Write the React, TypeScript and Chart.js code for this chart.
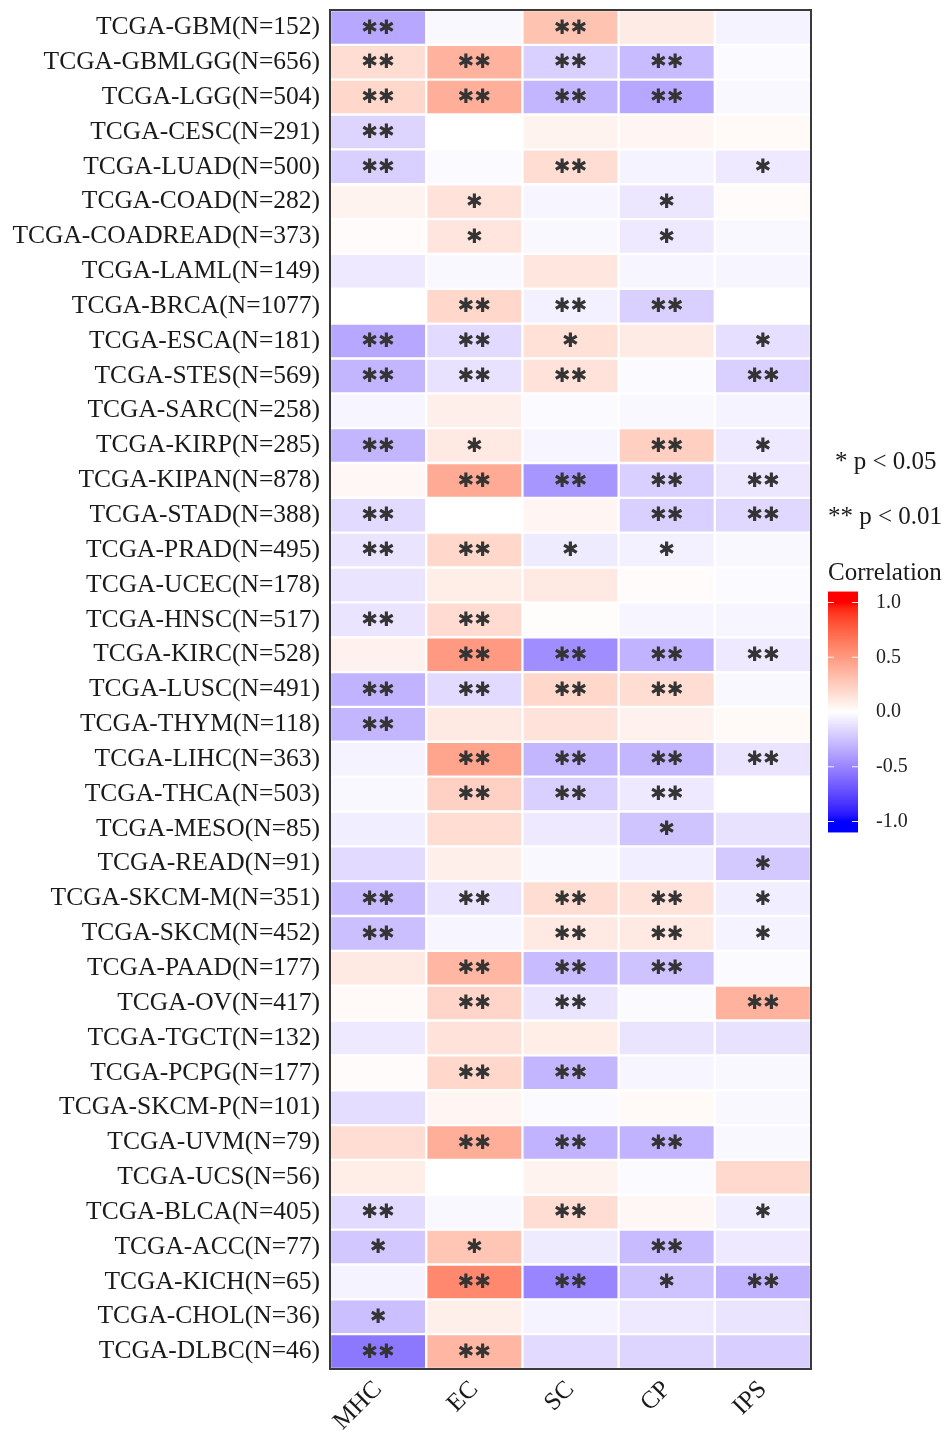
import React, { useEffect, useRef } from "react";
import { Chart, registerables } from "chart.js";

Chart.register(...registerables);

// ---------- data ----------
const cancerTypes = [
  "TCGA-GBM(N=152)", "TCGA-GBMLGG(N=656)", "TCGA-LGG(N=504)", "TCGA-CESC(N=291)",
  "TCGA-LUAD(N=500)", "TCGA-COAD(N=282)", "TCGA-COADREAD(N=373)", "TCGA-LAML(N=149)",
  "TCGA-BRCA(N=1077)", "TCGA-ESCA(N=181)", "TCGA-STES(N=569)", "TCGA-SARC(N=258)",
  "TCGA-KIRP(N=285)", "TCGA-KIPAN(N=878)", "TCGA-STAD(N=388)", "TCGA-PRAD(N=495)",
  "TCGA-UCEC(N=178)", "TCGA-HNSC(N=517)", "TCGA-KIRC(N=528)", "TCGA-LUSC(N=491)",
  "TCGA-THYM(N=118)", "TCGA-LIHC(N=363)", "TCGA-THCA(N=503)", "TCGA-MESO(N=85)",
  "TCGA-READ(N=91)", "TCGA-SKCM-M(N=351)", "TCGA-SKCM(N=452)", "TCGA-PAAD(N=177)",
  "TCGA-OV(N=417)", "TCGA-TGCT(N=132)", "TCGA-PCPG(N=177)", "TCGA-SKCM-P(N=101)",
  "TCGA-UVM(N=79)", "TCGA-UCS(N=56)", "TCGA-BLCA(N=405)", "TCGA-ACC(N=77)",
  "TCGA-KICH(N=65)", "TCGA-CHOL(N=36)", "TCGA-DLBC(N=46)",
];

const signatures = ["MHC", "EC", "SC", "CP", "IPS"];

const mhcCorr = [
  -0.36, 0.17, 0.2, -0.17, -0.19, 0.06, 0.02, -0.09, 0.0, -0.36, -0.3, -0.04, -0.3,
  0.04, -0.15, -0.11, -0.11, -0.11, 0.07, -0.31, -0.3, -0.05, -0.03, -0.07, -0.15,
  -0.28, -0.26, 0.11, 0.03, -0.09, 0.02, -0.14, 0.17, 0.09, -0.15, -0.23, -0.05, -0.26, -0.56,
];
const ecCorr = [
  -0.03, 0.38, 0.4, 0.0, -0.02, 0.14, 0.13, -0.03, 0.2, -0.15, -0.12, 0.08, 0.11,
  0.42, 0.0, 0.2, 0.09, 0.18, 0.5, -0.15, 0.11, 0.45, 0.23, 0.17, 0.08,
  -0.11, -0.04, 0.36, 0.21, 0.14, 0.2, 0.05, 0.4, 0.0, -0.03, 0.29, 0.58, 0.08, 0.36,
];
const scCorr = [
  0.3, -0.19, -0.3, 0.06, 0.17, -0.04, -0.03, 0.12, -0.06, 0.15, 0.14, -0.02, -0.04,
  -0.43, 0.05, -0.08, 0.11, 0.01, -0.47, 0.2, 0.14, -0.3, -0.19, -0.09, -0.03,
  0.17, 0.11, -0.28, -0.11, 0.09, -0.3, -0.02, -0.31, 0.06, 0.17, -0.08, -0.5, -0.05, -0.15,
];
const cpCorr = [
  0.1, -0.28, -0.36, 0.05, -0.05, -0.1, -0.09, -0.04, -0.19, 0.1, -0.02, -0.03, 0.24,
  -0.19, -0.19, -0.06, 0.02, -0.04, -0.31, 0.17, 0.07, -0.3, -0.09, -0.24, -0.07,
  0.14, 0.11, -0.25, -0.02, -0.11, -0.04, 0.03, -0.31, -0.02, 0.04, -0.28, -0.25, -0.09, -0.17,
];
const ipsCorr = [
  -0.05, -0.02, -0.03, 0.03, -0.09, 0.02, -0.03, -0.04, 0.0, -0.13, -0.19, -0.05, -0.09,
  -0.1, -0.16, -0.03, -0.02, -0.04, -0.09, -0.03, 0.03, -0.11, 0.0, -0.12, -0.22,
  -0.07, -0.05, -0.02, 0.38, -0.12, -0.03, -0.03, -0.03, 0.19, -0.07, -0.09, -0.31, -0.11, -0.2,
];

const mhcSig = [
  "**", "**", "**", "**", "**", "", "", "", "", "**", "**", "", "**",
  "", "**", "**", "", "**", "", "**", "**", "", "", "", "",
  "**", "**", "", "", "", "", "", "", "", "**", "*", "", "*", "**",
];
const ecSig = [
  "", "**", "**", "", "", "*", "*", "", "**", "**", "**", "", "*",
  "**", "", "**", "", "**", "**", "**", "", "**", "**", "", "",
  "**", "", "**", "**", "", "**", "", "**", "", "", "*", "**", "", "**",
];
const scSig = [
  "**", "**", "**", "", "**", "", "", "", "**", "*", "**", "", "",
  "**", "", "*", "", "", "**", "**", "", "**", "**", "", "",
  "**", "**", "**", "**", "", "**", "", "**", "", "**", "", "**", "", "",
];
const cpSig = [
  "", "**", "**", "", "", "*", "*", "", "**", "", "", "", "**",
  "**", "**", "*", "", "", "**", "**", "", "**", "**", "*", "",
  "**", "**", "**", "", "", "", "", "**", "", "", "**", "*", "", "",
];
const ipsSig = [
  "", "", "", "", "*", "", "", "", "", "*", "**", "", "*",
  "**", "**", "", "", "", "**", "", "", "**", "", "", "*",
  "*", "*", "", "**", "", "", "", "", "", "*", "", "**", "", "",
];

const colorbarTicks = [1.0, 0.5, 0.0, -0.5, -1.0];
const legendNotes = ["* p < 0.05", "** p < 0.01"];
const legendTitle = "Correlation";

const corrColumns = [mhcCorr, ecCorr, scCorr, cpCorr, ipsCorr];
const sigColumns = [mhcSig, ecSig, scSig, cpSig, ipsSig];

// ---------- colour scale (blue - white - red) ----------
type Lab = [number, number, number];
function toLin(c: number) {
  c /= 255;
  return c <= 0.04045 ? c / 12.92 : Math.pow((c + 0.055) / 1.055, 2.4);
}
function fromLin(c: number) {
  const v = c <= 0.0031308 ? 12.92 * c : 1.055 * Math.pow(c, 1 / 2.4) - 0.055;
  return Math.max(0, Math.min(255, v * 255));
}
const Xn = 0.95047, Yn = 1.0, Zn = 1.08883;
function rgbToLab(r: number, g: number, b: number): Lab {
  const R = toLin(r), G = toLin(g), B = toLin(b);
  const X = 0.4124 * R + 0.3576 * G + 0.1805 * B;
  const Y = 0.2126 * R + 0.7152 * G + 0.0722 * B;
  const Z = 0.0193 * R + 0.1192 * G + 0.9505 * B;
  const f = (t: number) => (t > 0.008856 ? Math.cbrt(t) : 7.787 * t + 16 / 116);
  const fx = f(X / Xn), fy = f(Y / Yn), fz = f(Z / Zn);
  return [116 * fy - 16, 500 * (fx - fy), 200 * (fy - fz)];
}
function labToRgb(L: number, a: number, b: number): [number, number, number] {
  const fy = (L + 16) / 116, fx = fy + a / 500, fz = fy - b / 200;
  const fi = (t: number) => (t * t * t > 0.008856 ? t * t * t : (t - 16 / 116) / 7.787);
  const X = Xn * fi(fx), Y = Yn * fi(fy), Z = Zn * fi(fz);
  const R = 3.2406 * X - 1.5372 * Y - 0.4986 * Z;
  const G = -0.9689 * X + 1.8758 * Y + 0.0415 * Z;
  const B = 0.0557 * X - 0.204 * Y + 1.057 * Z;
  return [fromLin(R), fromLin(G), fromLin(B)];
}
const LOW: [number, number, number] = [0, 0, 255];
const HIGH: [number, number, number] = [255, 0, 0];
const LAB_LOW = rgbToLab(...LOW);
const LAB_MID = rgbToLab(255, 255, 255);
const LAB_HIGH = rgbToLab(...HIGH);
function corrColor(v: number) {
  const t = Math.max(-1, Math.min(1, v));
  const neg = t < 0;
  const end = neg ? LAB_LOW : LAB_HIGH;
  const endRgb = neg ? LOW : HIGH;
  const k = Math.abs(t);
  const lab = labToRgb(
    LAB_MID[0] + (end[0] - LAB_MID[0]) * k,
    LAB_MID[1] + (end[1] - LAB_MID[1]) * k,
    LAB_MID[2] + (end[2] - LAB_MID[2]) * k
  );
  const lin = [0, 1, 2].map((i) => 255 + (endRgb[i] - 255) * k);
  const w = neg ? 0.5 : 0.85; // share of Lab interpolation
  const c = [0, 1, 2].map((i) => Math.round(lab[i] * w + lin[i] * (1 - w)));
  return `rgb(${c[0]},${c[1]},${c[2]})`;
}

const SERIF = "'Liberation Serif', 'Times New Roman', serif";

const decorPlugin = {
  id: "heatDecor",
  afterDatasetsDraw(chart: any) {
    const ctx = chart.ctx as CanvasRenderingContext2D;
    const area = chart.chartArea;
    ctx.save();
    ctx.fillStyle = "#343434";
    ctx.font = "20px 'DejaVu Sans'";
    ctx.textAlign = "center";
    ctx.textBaseline = "middle";
    sigColumns.forEach((col, c) => {
      const meta = chart.getDatasetMeta(c);
      col.forEach((s, r) => {
        if (!s) return;
        const p = meta.data[r].getCenterPoint();
        ctx.fillText(s.replace(/\*/g, "\u2731"), p.x, p.y + 1);
      });
    });
    ctx.strokeStyle = "#3a3a3a";
    ctx.lineWidth = 2;
    ctx.strokeRect(area.left, area.top, area.right - area.left, area.bottom - area.top);
    ctx.restore();
  },
  afterDraw(chart: any) {
    const ctx = chart.ctx as CanvasRenderingContext2D;
    ctx.save();
    ctx.fillStyle = "#1a1a1a";
    ctx.textBaseline = "middle";
    ctx.textAlign = "left";
    ctx.font = `25px ${SERIF}`;
    ctx.fillText(legendNotes[0], 835, 462);
    ctx.fillText(legendNotes[1], 828, 517);
    ctx.fillText(legendTitle, 828, 573);

    const barX = 828, barW = 30, zeroY = 712, unit = 109.5;
    const topV = 1.1, botV = -1.1;
    const yOf = (v: number) => zeroY - v * unit;
    const y0 = yOf(topV), y1 = yOf(botV);
    const grad = ctx.createLinearGradient(0, y0, 0, y1);
    const steps = 44;
    for (let i = 0; i <= steps; i++) {
      const v = topV + (botV - topV) * (i / steps);
      grad.addColorStop(i / steps, corrColor(v));
    }
    ctx.fillStyle = grad;
    ctx.fillRect(barX, y0, barW, y1 - y0);
    ctx.strokeStyle = "rgba(255,255,255,0.9)";
    ctx.lineWidth = 1.2;
    ctx.font = `20px ${SERIF}`;
    ctx.fillStyle = "#222222";
    colorbarTicks.forEach((v) => {
      const y = yOf(v);
      ctx.beginPath();
      ctx.moveTo(barX, y);
      ctx.lineTo(barX + 6, y);
      ctx.moveTo(barX + barW - 6, y);
      ctx.lineTo(barX + barW, y);
      ctx.stroke();
      ctx.fillText(v.toFixed(1), 876, y);
    });
    ctx.restore();
  },
};

export default function App() {
  const canvasRef = useRef<HTMLCanvasElement | null>(null);

  useEffect(() => {
    if (!canvasRef.current) return;
    const datasets = corrColumns.map((vals, c) => ({
      label: signatures[c],
      data: cancerTypes.map(() => [c, c + 1]),
      backgroundColor: vals.map(corrColor),
      borderColor: "#ffffff",
      borderWidth: 1.5,
      borderSkipped: false,
      grouped: false,
      categoryPercentage: 1,
      barPercentage: 1,
    }));

    const chart = new Chart(canvasRef.current, {
      type: "bar",
      data: { labels: cancerTypes, datasets: datasets as any },
      options: {
        indexAxis: "y",
        animation: false,
        responsive: false,
        devicePixelRatio: 1,
        layout: { padding: { top: 10, right: 136, bottom: 0, left: 0 } },
        plugins: { legend: { display: false }, tooltip: { enabled: false } },
        scales: {
          x: {
            type: "linear",
            min: 0,
            max: 5,
            grid: { display: false, drawTicks: false },
            border: { display: false },
            afterBuildTicks: (s: any) => {
              s.ticks = signatures.map((_, i) => ({ value: i + 0.5 }));
            },
            afterFit: (s: any) => {
              s.height = 62;
              s.paddingLeft = 0;
              s.paddingRight = 0;
            },
            ticks: {
              autoSkip: false,
              minRotation: 45,
              maxRotation: 45,
              padding: 6,
              color: "#1a1a1a",
              font: { family: SERIF, size: 25 },
              callback: (v: any) => signatures[Math.floor(Number(v))],
            },
          },
          y: {
            type: "category",
            grid: { display: false, drawTicks: false },
            border: { display: false },
            afterFit: (s: any) => {
              s.width = 330;
              s.paddingTop = 0;
              s.paddingBottom = 0;
            },
            ticks: {
              autoSkip: false,
              padding: 10,
              color: "#1a1a1a",
              font: { family: SERIF, size: 25.5 },
            },
          },
        },
      },
      plugins: [decorPlugin],
    } as any);
    return () => chart.destroy();
  }, []);

  return (
    <div style={{ position: "absolute", left: 0, top: 0, width: 947, height: 1431, background: "#fff" }}>
      <canvas ref={canvasRef} width={947} height={1431} />
    </div>
  );
}
